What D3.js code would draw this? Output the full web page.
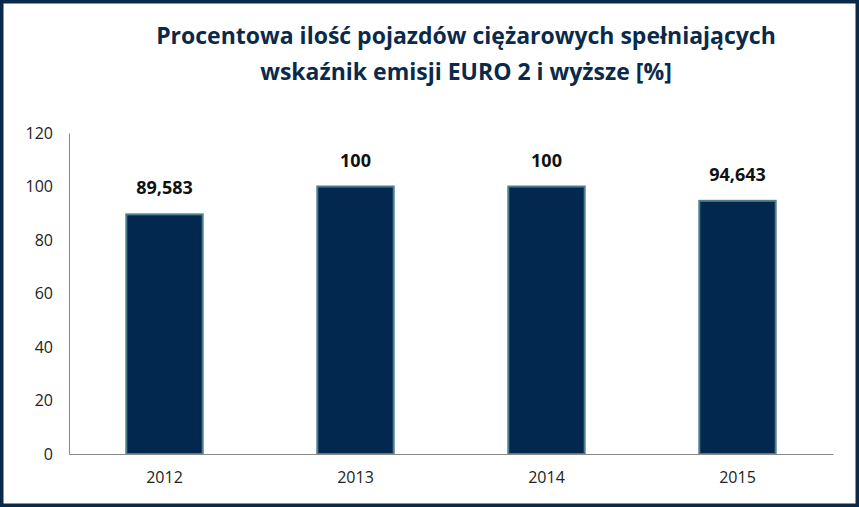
<!DOCTYPE html>
<html>
<head>
<meta charset="utf-8">
<script src="https://d3js.org/d3.v7.min.js"></script>
<style>
  body { margin: 0; background: #fff; }
  text { font-family: "Open Sans", "DejaVu Sans", sans-serif; }
</style>
</head>
<body>
<div id="chart"></div>
<script>
// chart data
const years = ["2012", "2013", "2014", "2015"];
const values = [89.583, 100, 100, 94.643];
const labels = ["89,583", "100", "100", "94,643"];
const yTicks = [0, 20, 40, 60, 80, 100, 120];

const W = 859, H = 507;
const margin = {top: 133, right: 26, bottom: 53, left: 69};
const width = W - margin.left - margin.right,
      height = H - margin.top - margin.bottom;

const svg = d3.select("#chart").append("svg")
  .attr("width", W).attr("height", H);

// dark frame
svg.append("rect").attr("x", 1.5).attr("y", 1.5)
  .attr("width", W - 3).attr("height", H - 3)
  .attr("fill", "#fff").attr("stroke", "#0b2a4a").attr("stroke-width", 4);

svg.append("text").attr("x", 466).attr("y", 44)
  .attr("text-anchor", "middle").attr("font-size", 23).attr("font-weight", "bold")
  .attr("fill", "#0b2a4a")
  .text("Procentowa ilość pojazdów ciężarowych spełniających");
svg.append("text").attr("x", 466).attr("y", 80)
  .attr("text-anchor", "middle").attr("font-size", 23).attr("font-weight", "bold")
  .attr("fill", "#0b2a4a")
  .text("wskaźnik emisji EURO 2 i wyższe  [%]");

const g = svg.append("g").attr("transform", `translate(${margin.left},${margin.top})`);

const x = d3.scaleBand().domain(years).range([0, width]).paddingInner(0.6).paddingOuter(0.3);
const y = d3.scaleLinear().domain([0, 120]).range([height, 0]);

// y axis
const yAxis = g.append("g").call(d3.axisLeft(y).tickValues(yTicks).tickSize(0).tickPadding(16));
yAxis.select(".domain").attr("stroke", "#888");
yAxis.selectAll("text").attr("font-size", 16).attr("fill", "#222")
  .style("font-family", "'Open Sans', sans-serif");

// bars
g.selectAll(".bar").data(years).enter().append("rect")
  .attr("class", "bar")
  .attr("x", d => x(d))
  .attr("y", (d, i) => y(values[i]))
  .attr("width", x.bandwidth())
  .attr("height", (d, i) => height - y(values[i]))
  .attr("fill", "#03284f")
  .attr("stroke", "#4d7f8f").attr("stroke-width", 2);

// x axis
const xAxis = g.append("g").attr("transform", `translate(0,${height})`)
  .call(d3.axisBottom(x).tickSize(0).tickPadding(18));
xAxis.select(".domain").attr("stroke", "#888");
xAxis.selectAll("text").attr("font-size", 16).attr("fill", "#222")
  .style("font-family", "'Open Sans', sans-serif");

// value labels
g.selectAll(".lbl").data(years).enter().append("text")
  .attr("x", d => x(d) + x.bandwidth() / 2)
  .attr("y", (d, i) => y(values[i]) - 20)
  .attr("text-anchor", "middle").attr("font-size", 18).attr("font-weight", "bold")
  .attr("fill", "#111")
  .text((d, i) => labels[i]);
</script>
</body>
</html>
